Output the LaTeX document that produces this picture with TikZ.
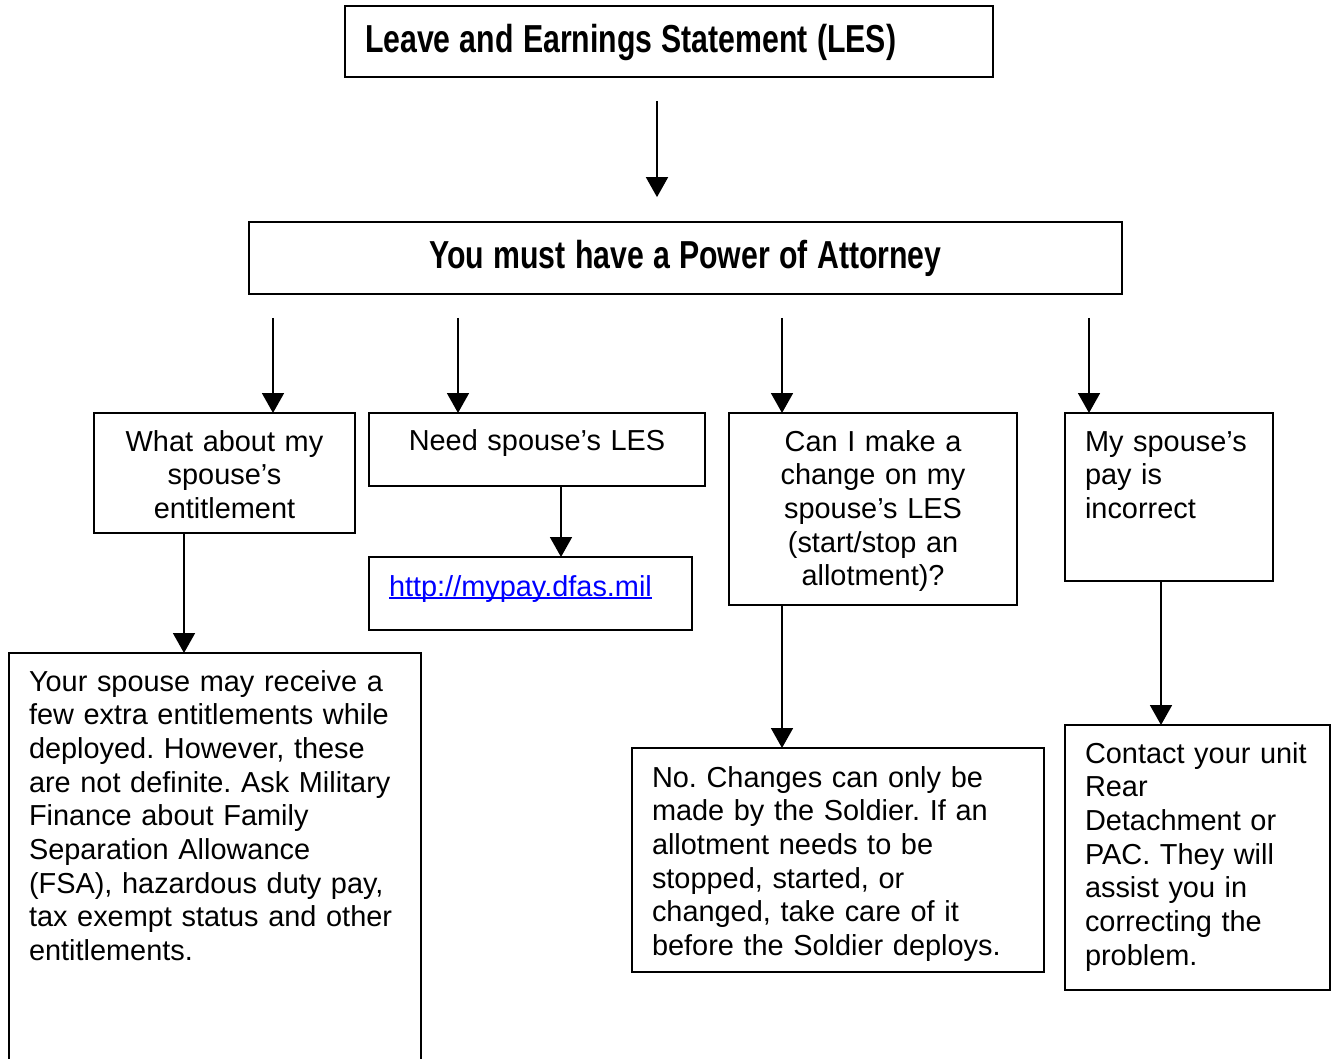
\documentclass[tikz,border=0pt]{standalone}
\usepackage{fontspec}
\setmainfont{Liberation Sans}
\newfontfamily\titlefont{Liberation Sans}[FakeStretch=0.775]
\usetikzlibrary{arrows.meta}
\definecolor{linkblue}{RGB}{0,0,255}
\newcommand\ulink[1]{\setbox0\hbox{#1}\rlap{\rule[-1.2pt]{\wd0}{0.7pt}}\box0}
\frenchspacing
\begin{document}
\begin{tikzpicture}[x=0.41pt, y=-0.41pt,
    box/.style={draw, line width=0.8pt, anchor=north west, inner xsep=8.2pt, inner ysep=0pt, outer sep=0pt, font=\fontsize{11.85pt}{13.8pt}\selectfont},
    head/.style={box, font=\titlefont\bfseries\fontsize{16pt}{19pt}\selectfont, text height=18.9pt, execute at begin node={\spaceskip=3.8pt\relax}},
    arr/.style={line width=0.8pt, -{Triangle[width=9pt,length=8.2pt]}}]
  \useasboundingbox (0,0) rectangle (1335,1059);
    \node [head, text width=249.3pt, text depth=10.2pt, align=left] (les) at (345,6) {Leave and Earnings Statement (LES)};
    \node [head, text width=341.5pt, text depth=10.6pt, align=center] (poa) at (249,222) {You must have a Power of Attorney};
  % second row
    \node [box, text width=90.6pt, text height=15.6pt, text depth=33.6pt, align=center] (ent) at (94,413) {What about my\\spouse’s\\entitlement};
    \node [box, text width=121.4pt, text height=15.2pt, text depth=14.7pt, align=center] (need) at (369,413) {Need spouse’s LES};
    \node [box, text width=101.7pt, text height=15.6pt, text depth=63.1pt, align=center] (chg) at (729,413) {Can I make a\\change on my\\spouse’s LES\\(start/stop an\\allotment)?};
    \node [box, text width=68.9pt, text height=15.6pt, text depth=53.3pt, align=left] (pay) at (1065,413) {My spouse’s\\pay is\\incorrect};
  % answers
    \node [box, text width=116pt, text height=16pt, text depth=13.9pt, align=left] (url) at (369,557) {\textcolor{linkblue}{\ulink{http://mypay.dfas.mil}}};
    \node [box, text width=152.5pt, text height=15.6pt, text depth=152.9pt, align=left] (entx) at (9,653) {Your spouse may receive a\\few extra entitlements while\\deployed. However, these\\are not definite. Ask Military\\Finance about Family\\Separation Allowance\\(FSA), hazardous duty pay,\\tax exempt status and other\\entitlements.};
    \node [box, text width=152.5pt, text height=16pt, text depth=75.8pt, align=left] (chgx) at (632,748) {No. Changes can only be\\made by the Soldier. If an\\allotment needs to be\\stopped, started, or\\changed, take care of it\\before the Soldier deploys.};
    \node [box, text width=92.3pt, text height=15.6pt, text depth=93.1pt, align=left] (payx) at (1065,725) {Contact your unit\\Rear\\Detachment or\\PAC. They will\\assist you in\\correcting the\\problem.};
  % arrows
    \draw [arr, shorten <=9.8pt, shorten >=10.2pt] (les.south -| 657,0) -- (poa.north -| 657,0);
    \draw [arr, shorten <=9.8pt] (poa.south -| 273,0) -- (ent.north -| 273,0);
    \draw [arr, shorten <=9.8pt] (poa.south -| 458,0) -- (need.north -| 458,0);
    \draw [arr, shorten <=9.8pt] (poa.south -| 782,0) -- (chg.north -| 782,0);
    \draw [arr, shorten <=9.8pt] (poa.south -| 1089,0) -- (pay.north -| 1089,0);
    \draw [arr] (need.south -| 561,0) -- (url.north -| 561,0);
    \draw [arr] (ent.south -| 184,0) -- (entx.north -| 184,0);
    \draw [arr] (chg.south -| 782,0) -- (chgx.north -| 782,0);
    \draw [arr] (pay.south -| 1161,0) -- (payx.north -| 1161,0);
\end{tikzpicture}
\end{document}
